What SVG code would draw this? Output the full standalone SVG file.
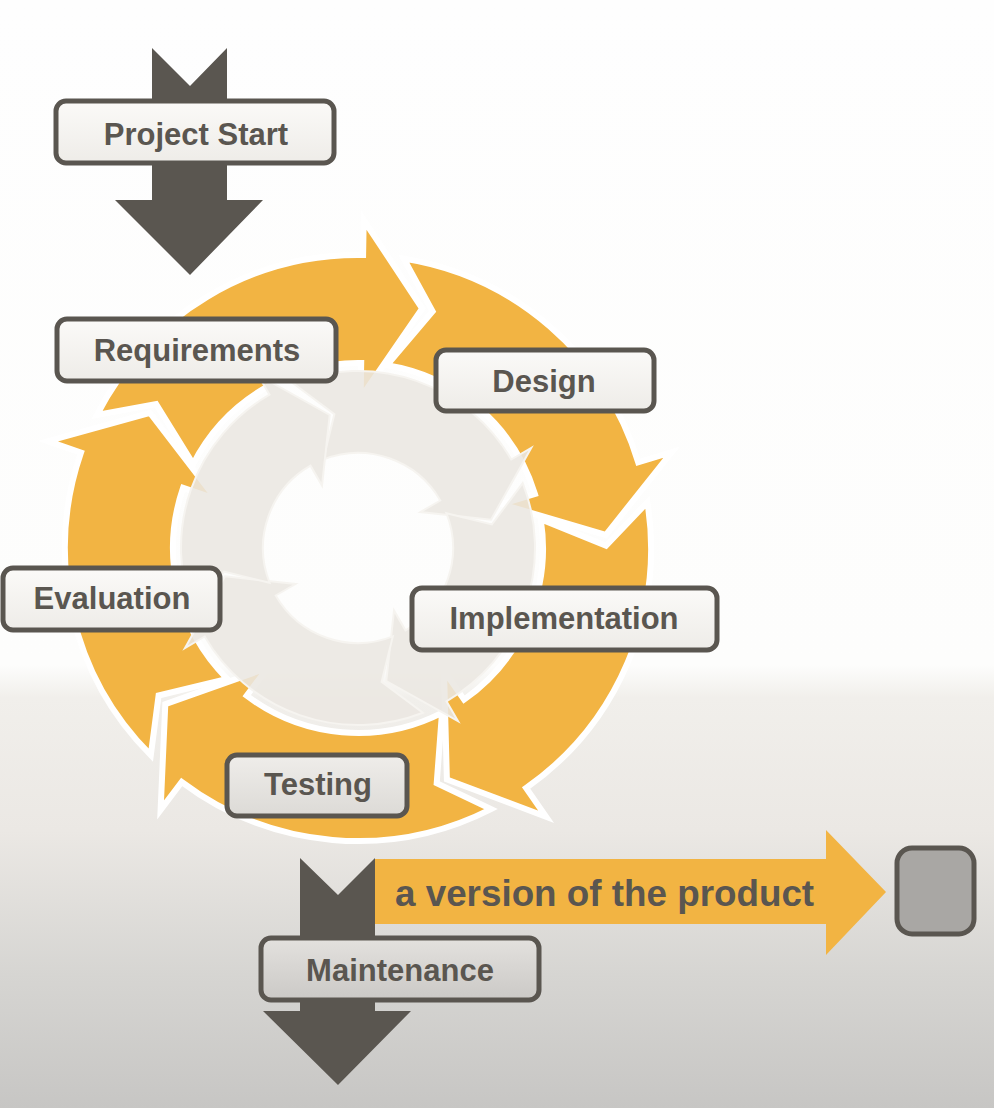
<svg xmlns="http://www.w3.org/2000/svg" width="994" height="1108" viewBox="0 0 994 1108">
<defs>
<linearGradient id="bg" x1="0" y1="0" x2="0" y2="1108" gradientUnits="userSpaceOnUse">
<stop offset="0" stop-color="#fefefe"/>
<stop offset="0.6" stop-color="#fdfdfc"/>
<stop offset="0.63" stop-color="#f1efeb"/>
<stop offset="0.75" stop-color="#ebe8e4"/>
<stop offset="0.88" stop-color="#d6d5d2"/>
<stop offset="1" stop-color="#c7c6c4"/>
</linearGradient>
<linearGradient id="boxTop" x1="0" y1="0" x2="0" y2="1">
<stop offset="0" stop-color="#fbfaf8"/>
<stop offset="1" stop-color="#eeece8"/>
</linearGradient>
<linearGradient id="boxMid" x1="0" y1="0" x2="0" y2="1">
<stop offset="0" stop-color="#efedea"/>
<stop offset="1" stop-color="#dcdad6"/>
</linearGradient>
<linearGradient id="boxLow" x1="0" y1="0" x2="0" y2="1">
<stop offset="0" stop-color="#e3e1de"/>
<stop offset="1" stop-color="#cbc9c6"/>
</linearGradient>
<style>
.lbl{font-family:"Liberation Sans",Arial,sans-serif;font-weight:bold;font-size:31px;fill:#5a5650;text-anchor:middle}
.box{stroke:#5a5650;stroke-width:5}
.dark{fill:#5a5650}
.orange{fill:#f2b443;stroke:#ffffff;stroke-width:6;stroke-linejoin:miter}
.grey{fill:#ebe7e1;fill-opacity:0.88;stroke:#f6f4f0;stroke-width:2}
</style>
</defs>
<rect x="0" y="0" width="994" height="1108" fill="url(#bg)"/>

<g id="connectors">
<g id="cycle-outer">
<path class="orange" d="M96.9,415.0 A293,293 0 0 1 363.1,255.0 L363.7,220.0 L422.2,308.5 L360.6,398.0 L361.2,363.0 A185,185 0 0 0 193.2,464.0 L156.1,404.0 Z"/>
<path class="orange" d="M403.8,258.6 A293,293 0 0 1 638.2,462.3 L671.7,452.1 L605.7,535.0 L501.4,504.1 L534.9,493.9 A185,185 0 0 0 386.9,365.3 L432.6,311.5 Z"/>
<path class="orange" d="M647.4,502.2 A293,293 0 0 1 526.1,788.0 L546.1,816.7 L446.9,779.5 L444.0,670.9 L464.1,699.6 A185,185 0 0 0 540.7,519.1 L606.0,545.8 Z"/>
<path class="orange" d="M491.0,809.1 A293,293 0 0 1 181.7,782.0 L160.6,809.9 L165.3,704.1 L267.7,667.8 L246.7,695.7 A185,185 0 0 0 442.0,712.8 L436.7,783.2 Z"/>
<path class="orange" d="M150.8,755.2 A293,293 0 0 1 81.0,452.6 L47.9,441.2 L150.0,412.9 L216.2,499.2 L183.1,487.8 A185,185 0 0 0 227.2,678.8 L158.6,695.5 Z"/>
</g>
<g id="cycle-inner">
<path class="grey" d="M293.1,383.3 A177,177 0 0 1 511.3,459.5 L531.2,448.0 L491.0,519.7 L420.4,512.0 L440.3,500.5 A95,95 0 0 0 323.2,459.6 L334.4,414.1 Z"/>
<path class="grey" d="M522.7,483.1 A177,177 0 0 1 446.5,701.3 L458.0,721.2 L386.3,681.0 L394.0,610.4 L405.5,630.3 A95,95 0 0 0 446.4,513.2 L491.9,524.4 Z"/>
<path class="grey" d="M422.9,712.7 A177,177 0 0 1 204.7,636.5 L185.0,648.0 L225.0,576.3 L295.6,584.0 L275.7,595.5 A95,95 0 0 0 392.8,636.4 L381.6,681.9 Z"/>
<path class="grey" d="M193.3,612.9 A177,177 0 0 1 269.5,394.7 L258.0,374.8 L329.7,415.0 L322.0,485.6 L310.5,465.7 A95,95 0 0 0 269.6,582.8 L224.1,571.6 Z"/>
</g>
<path id="start-arrow" class="dark" d="M152,48 L190,86 L227,48 L227,200 L263,200 L190,275 L115,200 L152,200 Z"/>
<path id="product-arrow" fill="#f2b443" d="M374,859 L826,859 L826,830 L886,892 L826,955 L826,924 L374,924 Z"/>
<path id="maintenance-arrow" class="dark" d="M300,858 L338,895 L375,858 L375,1011 L411,1011 L338,1085 L263,1011 L300,1011 Z"/>
</g>

<g id="node-project-start">
<rect class="box" x="56" y="101" width="278" height="62" rx="10" fill="url(#boxTop)"/>
<text class="lbl" x="196" y="145">Project Start</text>
</g>
<g id="node-requirements">
<rect class="box" x="57" y="319" width="279" height="62" rx="10" fill="url(#boxTop)"/>
<text class="lbl" x="197" y="361">Requirements</text>
</g>
<g id="node-design">
<rect class="box" x="436" y="350" width="218" height="61" rx="10" fill="url(#boxTop)"/>
<text class="lbl" x="544" y="392">Design</text>
</g>
<g id="node-evaluation">
<rect class="box" x="3" y="568" width="217" height="62" rx="10" fill="url(#boxTop)"/>
<text class="lbl" x="112" y="609">Evaluation</text>
</g>
<g id="node-implementation">
<rect class="box" x="412" y="588" width="305" height="62" rx="10" fill="url(#boxTop)"/>
<text class="lbl" x="564" y="629">Implementation</text>
</g>
<g id="node-testing">
<rect class="box" x="227" y="755" width="180" height="61" rx="10" fill="url(#boxMid)"/>
<text class="lbl" x="318" y="795">Testing</text>
</g>
<g id="node-product-label">
<text x="395" y="906" font-family="'Liberation Sans', Arial, sans-serif" font-weight="bold" font-size="36.8" fill="#5a5650">a version of the product</text>
</g>
<g id="node-maintenance">
<rect class="box" x="261" y="938" width="278" height="62" rx="10" fill="url(#boxLow)"/>
<text class="lbl" x="400" y="981">Maintenance</text>
</g>
<g id="node-version">
<rect x="897" y="848" width="77" height="86" rx="15" fill="#a9a7a4" stroke="#5a5650" stroke-width="5"/>
</g>
</svg>
